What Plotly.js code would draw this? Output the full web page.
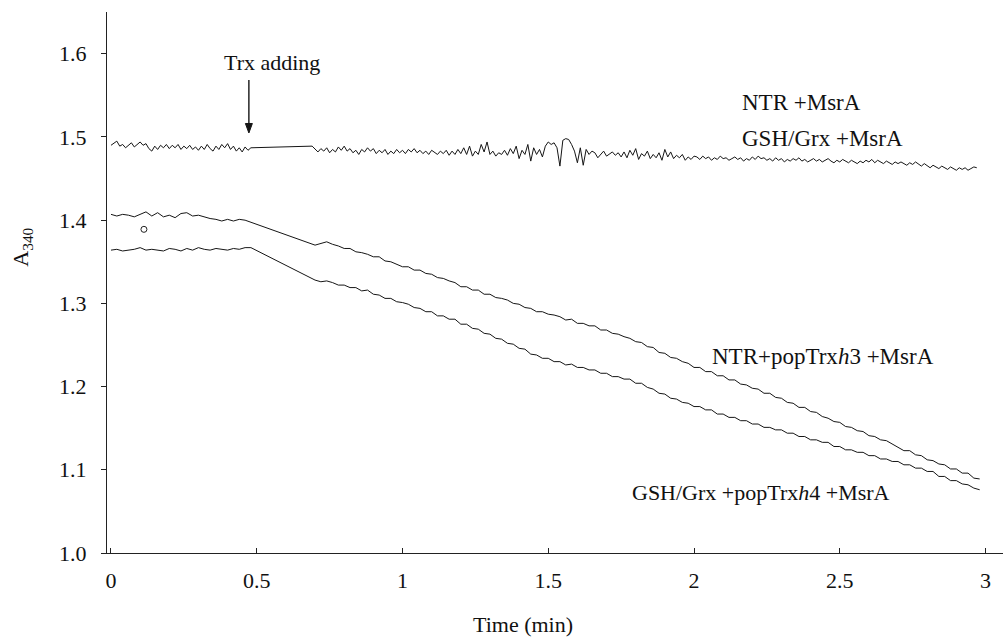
<!DOCTYPE html>
<html>
<head>
<meta charset="utf-8">
<script src="https://cdn.plot.ly/plotly-3.0.1.min.js"></script>
<style>html,body{margin:0;padding:0;background:#fff;}#chart{width:1005px;height:638px;}</style>
</head>
<body>
<div id="chart"></div>
<script>
// ---- Data (A340 vs time, min) ----
// Controls (NTR +MsrA and GSH/Grx +MsrA overlap): sampled every 0.01 min from t = 0
// null = no reading while Trx was being added (the recorder draws a straight line)
const controlA340 = [
1.490,1.492,1.495,1.489,1.491,1.487,1.490,1.493,1.488,1.491,
1.494,1.490,1.492,1.486,1.483,1.489,1.485,1.490,1.487,1.491,
1.486,1.490,1.487,1.491,1.485,1.489,1.486,1.490,1.485,1.488,
1.484,1.489,1.485,1.491,1.486,1.483,1.489,1.485,1.491,1.487,
1.492,1.485,1.489,1.483,1.487,1.482,1.488,1.484,1.487,
null,null,null,null,null,null,null,null,null,null,
null,null,null,null,null,null,null,null,null,null,
1.489,
1.485,1.482,1.486,1.483,1.487,1.481,1.485,1.482,1.488,1.484,
1.489,1.483,1.486,1.481,1.484,1.479,1.485,1.482,1.487,1.483,
1.486,1.480,1.484,1.481,1.485,1.479,1.483,1.480,1.485,1.481,
1.484,1.480,1.485,1.482,1.486,1.481,1.484,1.480,1.483,1.479,1.484,
1.482,1.479,1.483,1.480,1.484,1.478,1.483,1.479,1.485,1.480,
1.487,1.479,1.489,1.477,1.483,1.479,1.491,1.482,1.494,1.479,
1.483,1.477,1.481,1.479,1.484,1.478,1.486,1.480,1.489,1.474,
1.484,1.479,1.491,1.471,1.487,
1.479,1.485,1.476,1.489,1.494,1.491,1.493,1.487,1.465,1.496,
1.498,1.497,1.491,1.483,1.469,1.487,1.466,1.485,1.479,1.483,
1.481,1.475,1.479,1.483,1.477,1.480,1.482,1.478,1.481,1.476,
1.482,1.475,1.484,1.478,1.486,1.473,1.480,1.477,1.483,1.474,
1.479,1.475,1.481,1.472,1.485,1.476,1.482,1.474,1.478,1.475,
1.479,1.472,1.476,1.473,1.477,
1.476,1.473,1.477,1.474,1.476,1.472,1.475,1.473,1.477,1.474,
1.475,1.472,1.474,1.476,1.473,1.475,1.471,1.474,1.472,1.476,
1.473,1.477,1.474,1.475,1.472,1.474,1.471,1.475,1.472,1.474,
1.470,1.473,1.471,1.474,1.472,1.475,1.471,1.473,1.470,1.472,
1.474,1.471,1.473,1.470,1.472,1.474,1.471,1.469,1.472,1.470,
1.473,1.471,1.469,1.472,1.470,1.468,1.471,1.469,1.472,1.470,
1.473,1.469,1.472,1.470,1.468,1.471,1.469,1.467,1.470,1.468,
1.470,1.468,1.466,1.469,1.467,1.470,1.467,1.465,1.468,1.466,
1.463,1.466,1.464,1.462,1.465,1.463,1.461,1.464,1.462,1.460,
1.463,1.461,1.463,1.460,1.462,1.464,1.463
];
// NTR + popTrxh3 + MsrA: sampled every 0.02 min from t = 0
const ntrTrxh3A340 = [
1.407,1.405,1.407,1.406,1.404,1.407,1.410,1.405,1.409,1.404,
1.406,1.403,1.408,1.409,1.405,1.406,1.404,1.402,1.401,1.399,
1.401,1.399,1.401,1.400,
null,null,null,null,null,null,null,null,null,null,null,
1.370,1.372,1.374,1.371,1.369,1.366,1.366,1.362,1.361,1.359,
1.356,1.356,1.351,1.350,1.347,1.344,1.344,1.340,1.340,1.336,
1.335,1.331,1.330,1.327,1.325,1.320,1.320,1.316,1.316,1.311,
1.311,1.307,1.306,1.304,1.300,1.299,1.295,1.294,1.290,1.290,
1.287,1.286,1.284,1.280,1.281,1.276,1.276,1.273,1.273,1.268,
1.268,1.264,1.263,1.260,1.258,1.254,1.253,1.248,1.247,1.241,
1.240,1.235,1.234,1.230,1.228,1.223,1.223,1.218,1.218,1.213,
1.213,1.208,1.208,1.203,1.202,1.198,1.197,1.192,1.192,1.187,
1.186,1.181,1.180,1.175,1.175,1.170,1.169,1.164,1.162,1.158,
1.157,1.152,1.151,1.147,1.146,1.141,1.140,1.136,1.135,1.131,
1.128,1.123,1.123,1.118,1.117,1.112,1.111,1.107,1.106,1.101,
1.101,1.096,1.096,1.090,1.089
];
// GSH/Grx + popTrxh4 + MsrA: sampled every 0.02 min from t = 0
const gshTrxh4A340 = [
1.364,1.365,1.363,1.364,1.365,1.367,1.364,1.365,1.364,1.363,
1.366,1.365,1.363,1.366,1.364,1.367,1.365,1.364,1.366,1.365,
1.364,1.366,1.365,1.367,1.367,
null,null,null,null,null,null,null,null,null,null,
1.328,1.326,1.327,1.325,1.322,1.322,1.319,1.319,1.315,1.316,
1.311,1.310,1.306,1.306,1.302,1.301,1.299,1.295,1.294,1.290,
1.290,1.285,1.285,1.281,1.281,1.275,1.275,1.270,1.269,1.264,
1.263,1.258,1.257,1.252,1.251,1.246,1.245,1.239,1.238,1.234,
1.234,1.230,1.230,1.226,1.227,1.223,1.223,1.220,1.220,1.216,
1.216,1.212,1.212,1.209,1.209,1.204,1.204,1.199,1.197,1.192,
1.191,1.186,1.185,1.181,1.180,1.176,1.176,1.172,1.172,1.167,
1.167,1.163,1.163,1.159,1.159,1.155,1.155,1.151,1.151,1.148,
1.148,1.144,1.144,1.140,1.140,1.136,1.136,1.133,1.133,1.128,
1.128,1.124,1.124,1.121,1.121,1.117,1.117,1.113,1.113,1.110,
1.110,1.106,1.106,1.102,1.102,1.098,1.098,1.092,1.092,1.087,
1.087,1.083,1.082,1.078,1.076
];
// stray open-circle mark on the original recording
const strayMarkT = [0.113];
const strayMarkA = [1.389];

const xTickVals = [0, 0.5, 1, 1.5, 2, 2.5, 3];
const xTickText = ['0', '0.5', '1', '1.5', '2', '2.5', '3'];
const yTickVals = [1.0, 1.1, 1.2, 1.3, 1.4, 1.5, 1.6];
const yTickText = ['1.0', '1.1', '1.2', '1.3', '1.4', '1.5', '1.6'];

const serif = 'Liberation Serif, Times New Roman, serif';
const ink = '#151515';
const lineStyle = {color: ink, width: 1};

const traces = [
  {type: 'scatter', mode: 'lines', name: 'NTR +MsrA / GSH/Grx +MsrA',
   x0: 0, dx: 0.01, y: controlA340, connectgaps: true, line: lineStyle, hoverinfo: 'skip'},
  {type: 'scatter', mode: 'lines', name: 'NTR+popTrxh3 +MsrA',
   x0: 0, dx: 0.02, y: ntrTrxh3A340, connectgaps: true, line: lineStyle, hoverinfo: 'skip'},
  {type: 'scatter', mode: 'lines', name: 'GSH/Grx +popTrxh4 +MsrA',
   x0: 0, dx: 0.02, y: gshTrxh4A340, connectgaps: true, line: lineStyle, hoverinfo: 'skip'},
  {type: 'scatter', mode: 'markers', name: 'mark', x: strayMarkT, y: strayMarkA,
   marker: {symbol: 'circle-open', size: 6, color: '#222', line: {width: 1, color: '#222'}}, hoverinfo: 'skip'}
];

const fs = 22;
const txt = (s, x, y, xa, size) => ({text: s, xref: 'x', yref: 'y', x: x, y: y, showarrow: false,
  xanchor: xa, yanchor: 'middle', font: {family: serif, size: size || fs, color: '#111'}});

const layout = {
  width: 1005, height: 638,
  margin: {l: 107, r: 2, t: 12, b: 85, pad: 0},
  paper_bgcolor: '#fff', plot_bgcolor: '#fff',
  showlegend: false,
  font: {family: serif, size: fs, color: '#111'},
  xaxis: {
    range: [-0.0137, 3.060], tickvals: xTickVals, ticktext: xTickText,
    showgrid: false, zeroline: false, showline: true, linecolor: '#222', linewidth: 1,
    ticks: 'inside', ticklen: 5, tickcolor: '#222', tickwidth: 1,
    ticklabelstandoff: 8,
    tickfont: {family: serif, size: fs, color: '#111'}
  },
  yaxis: {
    range: [1.0, 1.6502], tickvals: yTickVals, ticktext: yTickText,
    showgrid: false, zeroline: false, showline: true, linecolor: '#222', linewidth: 1,
    ticks: 'outside', ticklen: 5, tickcolor: '#222', tickwidth: 1,
    ticklabelstandoff: 10,
    tickfont: {family: serif, size: fs, color: '#111'}
  },
  shapes: [
    {type: 'line', xref: 'x', yref: 'y', x0: 0.473, x1: 0.473, y0: 1.5685, y1: 1.5150,
     line: {color: ink, width: 1.4}},
    {type: 'path', xref: 'x', yref: 'y', path: 'M 0.461 1.5162 L 0.485 1.5162 L 0.473 1.5048 Z',
     fillcolor: ink, line: {color: ink, width: 1}}
  ],
  annotations: [
    txt('Trx adding', 0.552, 1.5900, 'center'),
    txt('NTR +MsrA', 2.158, 1.5409, 'left', 23),
    txt('GSH/Grx +MsrA', 2.158, 1.4976, 'left', 23),
    txt('NTR+popTrx<i>h</i>3 +MsrA', 2.055, 1.2356, 'left', 23),
    txt('GSH/Grx +popTrx<i>h</i>4 +MsrA', 1.780, 1.0733, 'left'),
    {text: 'Time (min)', xref: 'x', yref: 'paper', x: 1.413, y: -0.133, showarrow: false,
     xanchor: 'center', yanchor: 'middle', font: {family: serif, size: fs, color: '#111'}},
    {text: 'A<sub>340</sub>', xref: 'paper', yref: 'y', x: -0.0950, y: 1.3680, showarrow: false,
     textangle: -90, xanchor: 'center', yanchor: 'middle', font: {family: serif, size: fs, color: '#111'}}
  ]
};

Plotly.newPlot('chart', traces, layout, {staticPlot: true, displayModeBar: false});
</script>
</body>
</html>
